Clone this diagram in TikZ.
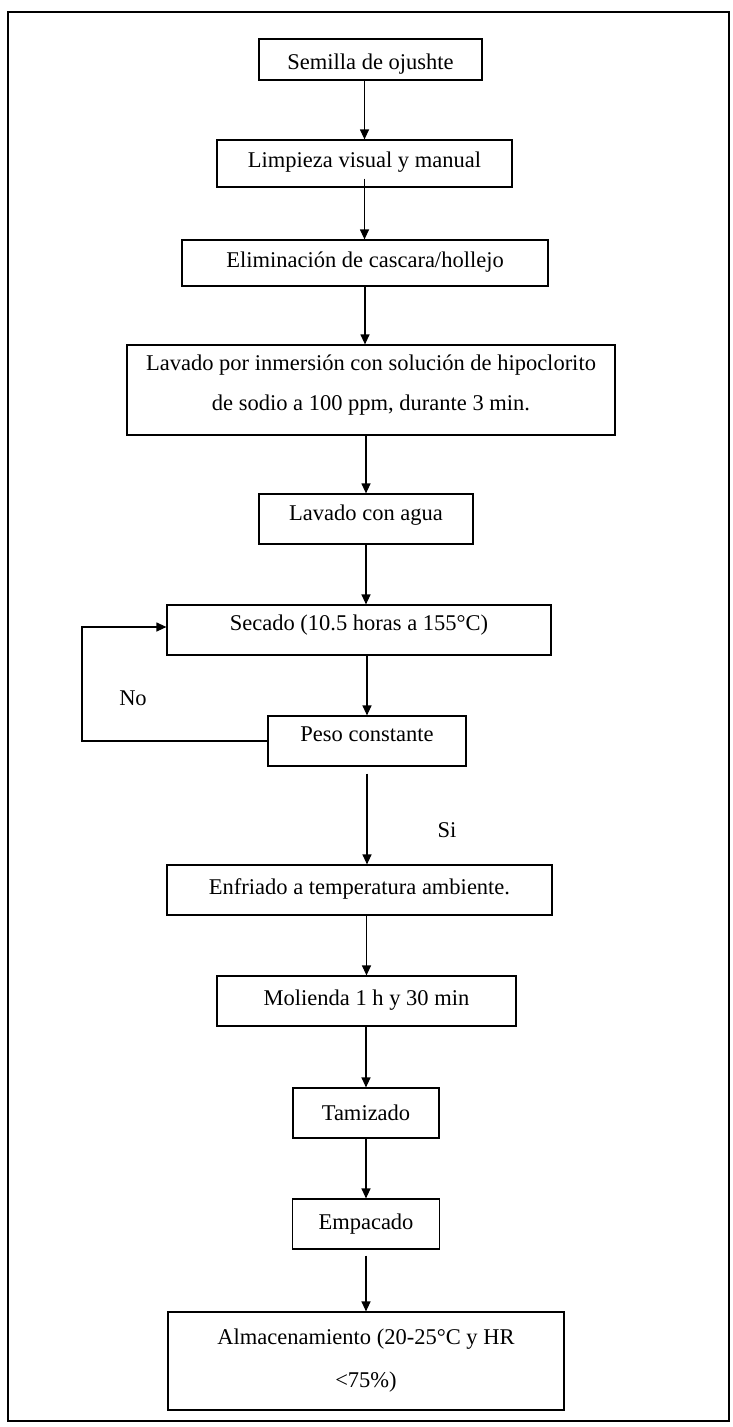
\documentclass[tikz,border=0pt]{standalone}
\usepackage{fontspec}
\setmainfont{Liberation Serif}
\usetikzlibrary{arrows.meta,calc}
\begin{document}
\begin{tikzpicture}[x=1pt,y=-1pt,
  box/.style={draw, line width=1.2pt, rectangle, inner sep=0pt},
  txt/.style={anchor=base, inner sep=0pt, font=\fontsize{22.5}{27}\selectfont},
  arr/.style={line width=1.2pt, -{Triangle[length=10pt,width=9pt]}},
  ln/.style={line width=1.2pt}]
\useasboundingbox (0,0) rectangle (733,1427);
\draw[line width=1.6pt] (8,12) rectangle (729,1421);

% boxes
\node[box, minimum width=223pt, minimum height=41pt] (semilla) at (370.5,59.5) {};
\node[box, minimum width=295pt, minimum height=47pt] (limpieza) at (364.5,163.5) {};
\node[box, minimum width=366pt, minimum height=46pt] (elim) at (365,263) {};
\node[box, minimum width=488pt, minimum height=90pt] (lavado) at (371,390) {};
\node[box, minimum width=214pt, minimum height=50pt] (agua) at (366,519) {};
\node[box, minimum width=384pt, minimum height=50pt] (secado) at (359,630) {};
\node[box, minimum width=198pt, minimum height=50pt] (peso) at (367,741) {};
\node[box, minimum width=385pt, minimum height=50pt] (enfriado) at (359.5,890) {};
\node[box, minimum width=299pt, minimum height=50pt] (molienda) at (366.5,1001) {};
\node[box, minimum width=146pt, minimum height=50pt] (tamizado) at (366,1113) {};
\node[box, minimum width=147pt, minimum height=50pt] (empacado) at (366,1224) {};
\node[box, minimum width=396pt, minimum height=98pt] (almac) at (366,1361) {};

% texts
\node[txt] (tsemilla) at (370.5,69) {Semilla de ojushte};
\node[txt] (tlimpieza) at (364.5,167) {Limpieza visual y manual};
\node[txt] (telim) at (365,267) {Eliminación de cascara/hollejo};
\node[txt] (tlavado1) at (371,370) {Lavado por inmersión con solución de hipoclorito};
\node[txt] (tlavado2) at (371,410) {de sodio a 100 ppm, durante 3 min.};
\node[txt] (tagua) at (366,520) {Lavado con agua};
\node[txt] (tsecado) at (359,630) {Secado (10.5 horas a 155°C)};
\node[txt] (tpeso) at (367,741) {Peso constante};
\node[txt] (tenfriado) at (359.5,894) {Enfriado a temperatura ambiente.};
\node[txt] (tmolienda) at (366.5,1005) {Molienda 1 h y 30 min};
\node[txt] (ttamizado) at (366,1120) {Tamizado};
\node[txt] (tempacado) at (366,1229) {Empacado};
\node[txt] (talmac1) at (366,1344) {Almacenamiento (20-25°C y HR};
\node[txt] (talmac2) at (366,1387) {<75\%)};
\node[txt] (no) at (133,705) {No};
\node[txt] (si) at (447,837) {Si};

% connectors
\draw[arr] (semilla.south -| limpieza.north) -- (limpieza.north);
\draw[arr] ([yshift=9pt]limpieza.south) -- (limpieza.south |- elim.north);
\draw[arr] (elim.south) -- (elim.south |- lavado.north);
\draw[arr] (lavado.south -| agua.north) -- (agua.north);
\draw[arr] (agua.south) -- (agua.south |- secado.north);
\draw[arr] (secado.south -| peso.north) -- (peso.north);
\draw[arr] ([yshift=-7pt]peso.south) -- (peso.south |- enfriado.north);
\draw[arr] (enfriado.south -| molienda.north) -- (molienda.north);
\draw[arr] (molienda.south -| tamizado.north) -- (tamizado.north);
\draw[arr] (tamizado.south -| empacado.north) -- (empacado.north);
\draw[arr] ([yshift=-6pt]empacado.south) -- (empacado.south |- almac.north);
\coordinate (fbt) at (82,627);
\draw[arr] (peso.west) -| (fbt) -- (fbt -| secado.west);
\end{tikzpicture}
\end{document}
